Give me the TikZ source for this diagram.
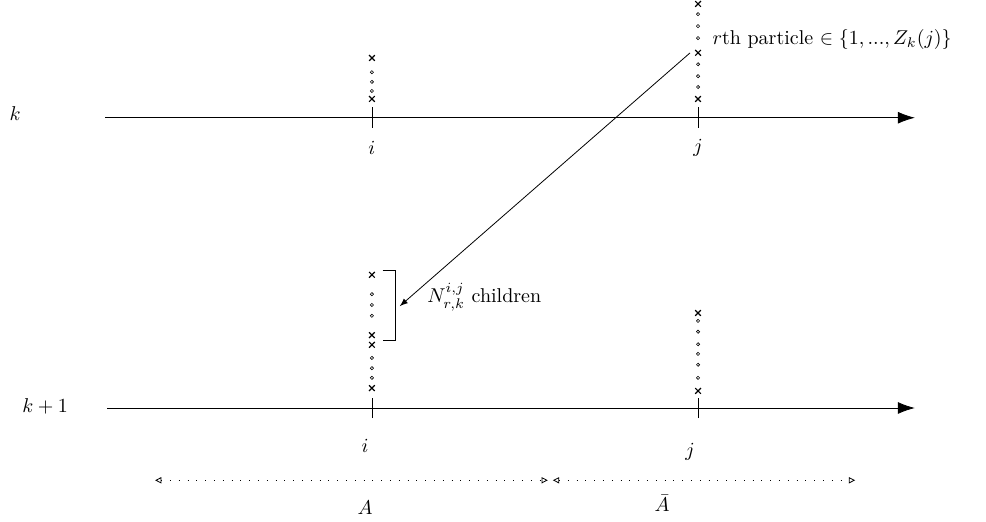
\documentclass[tikz,border=0pt]{standalone}
\usetikzlibrary{arrows.meta}

\begin{document}
\begin{tikzpicture}[
	cruz/.style={only marks, mark=x, mark size=2pt, mark options={line width=0.6pt}},
	bola/.style={line width=0.3pt},
	eje/.style={-{Latex[length=3mm,width=2.1mm]}},
	rango/.style={loosely dotted, {Triangle[open,length=1.1mm,width=1.1mm]}-{Triangle[open,length=1.1mm,width=1.1mm]}}]

\useasboundingbox (-1.845,-2.003) rectangle (15.48,7.169);

% Ejes
\node (k) at (-1.58,5.18) {$k$};
\node (k1) at (-1.05,0.02) {$k+1$};
\coordinate (A0) at (0,5.10);
\coordinate (A1) at (14.23,5.10);
\coordinate (B0) at (0.04,0);
\coordinate (B1) at (14.23,0);
\draw[eje] (A0) -- (A1);
\draw[eje] (B0) -- (B1);

	\foreach \x/\n in {4.69/i, 10.42/j}
		\draw (\x,5.10-0.18) -- (\x,5.10+0.18) (\x,4.57) node (top\n) {$\n$};

	\foreach \x in {4.69, 10.42}
		\draw (\x,-0.18) -- (\x,0.18);
\node (boti) at (4.57,-0.67) {$i$};
\node (botj) at (10.28,-0.77) {$j$};

% Particulas en k
\path[cruz] plot coordinates {(4.69,6.15) (4.69,5.43)};
	\foreach \y in {5.90, 5.73, 5.57}
		\draw[bola] (4.69,\y) circle[radius=0.8pt];

\path[cruz] plot coordinates {(10.42,7.10) (10.42,6.24) (10.42,5.43)};
	\foreach \y in {6.92, 6.71, 6.50, 6.04, 5.83, 5.64}
		\draw[bola] (10.42,\y) circle[radius=0.8pt];

% Particulas en k+1
\path[cruz] plot coordinates {(4.69,2.34) (4.69,1.28) (4.69,1.11) (4.69,0.35)};
	\foreach \y in {2.00, 1.81, 1.62, 0.88, 0.70, 0.53}
		\draw[bola] (4.69,\y) circle[radius=0.8pt];

\path[cruz] plot coordinates {(10.42,1.67) (10.42,0.30)};
	\foreach \y in {1.53, 1.34, 1.12, 0.95, 0.76, 0.53}
		\draw[bola] (10.42,\y) circle[radius=0.8pt];

% Hijos
\draw (4.88,2.42) -- (5.10,2.42) -- (5.10,1.18) -- (4.88,1.18);
\node[anchor=west] (hijos) at (5.54,1.95) {$N^{i,j}_{r,k}$ children};
\node[anchor=west] (part) at (10.55,6.47) {$r$th particle $\in \{1,...,Z_k(j)\}$};
\coordinate (r) at (10.28,6.24);
\coordinate (c) at (5.18,1.79);
\draw[-latex] (r) -- (c);

% Conjuntos
\coordinate (L0) at (0.88,-1.27);
\coordinate (L1) at (7.78,-1.27);
\coordinate (R0) at (7.87,-1.27);
\coordinate (R1) at (13.18,-1.27);
\draw[rango] (L0) -- (L1);
\draw[rango] (R0) -- (R1);
\node (A) at (4.57,-1.76) {$A$};
\node[inner sep=1pt] (Ab) at (9.79,-1.68) {$\bar{A}$};
\end{tikzpicture}
\end{document}
